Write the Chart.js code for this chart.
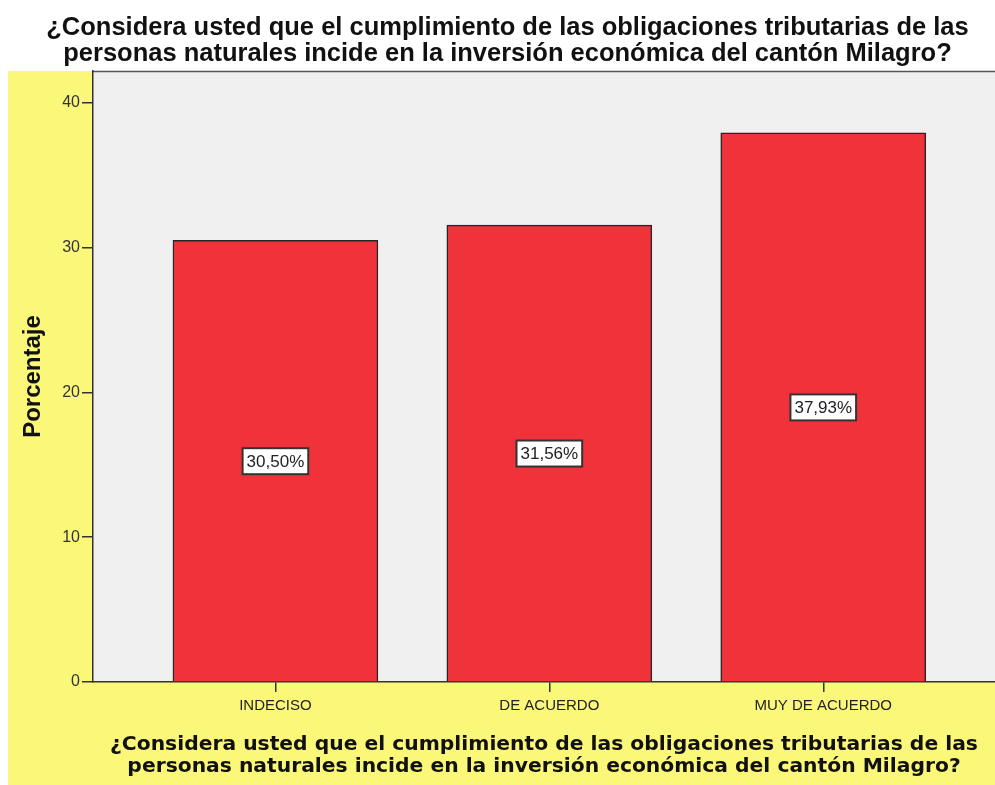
<!DOCTYPE html>
<html>
<head>
<meta charset="utf-8">
<script src="https://cdn.jsdelivr.net/npm/chart.js@4.4.0/dist/chart.umd.min.js"></script>
<style>
  html, body { margin: 0; padding: 0; background: #fff; }
  #wrap { width: 995px; height: 785px; }
</style>
</head>
<body>
<div id="wrap"><canvas id="porcentajeChart" width="995" height="785"></canvas></div>
<script>
const categorias = ['INDECISO', 'DE ACUERDO', 'MUY DE ACUERDO'];
const porcentajes = [30.50, 31.56, 37.93];
const yTicks = [0, 10, 20, 30, 40];
const pregunta = [
    '¿Considera usted que el cumplimiento de las obligaciones tributarias de las',
    'personas naturales incide en la inversión económica del cantón Milagro?'
];

const FAMILY = '"Liberation Sans", Arial, sans-serif';
Chart.defaults.font.family = FAMILY;

// fondo amarillo + area gris del grafico
const fondo = {
    id: 'fondo',
    beforeDraw(chart) {
        const { ctx, chartArea: a, width, height } = chart;
        ctx.save();
        ctx.fillStyle = '#ffffff';
        ctx.fillRect(0, 0, width, height);
        ctx.fillStyle = '#fbf779';
        ctx.fillRect(8, a.top, width - 8, height - a.top);
        ctx.fillStyle = '#f0f0f0';
        ctx.fillRect(a.left, a.top, a.right - a.left, a.bottom - a.top);
        ctx.strokeStyle = '#555';
        ctx.lineWidth = 1.5;
        ctx.beginPath();
        ctx.moveTo(a.left, a.top + 0.5);
        ctx.lineTo(a.right, a.top + 0.5);
        ctx.stroke();
        ctx.restore();
    }
};

// etiquetas con el porcentaje en medio de cada barra
const etiquetas = {
    id: 'etiquetas',
    afterDatasetsDraw(chart) {
        const { ctx, scales: { x, y } } = chart;
        ctx.save();
        ctx.font = '17px ' + FAMILY;
        ctx.textAlign = 'center';
        ctx.textBaseline = 'middle';
        porcentajes.forEach((v, i) => {
            const txt = v.toFixed(2).replace('.', ',') + '%';
            const cx = x.getPixelForValue(i);
            const cy = y.getPixelForValue(v / 2);
            const w = ctx.measureText(txt).width + 8;
            const h = 26;
            ctx.fillStyle = '#ffffff';
            ctx.fillRect(cx - w / 2, cy - h / 2, w, h);
            ctx.strokeStyle = '#333';
            ctx.lineWidth = 2;
            ctx.strokeRect(cx - w / 2, cy - h / 2, w, h);
            ctx.fillStyle = '#222';
            ctx.fillText(txt, cx, cy + 1);
        });
        ctx.restore();
    }
};

new Chart(document.getElementById('porcentajeChart'), {
    type: 'bar',
    data: {
        datasets: [{
            data: porcentajes.map((v, i) => ({ x: i, y: v })),
            backgroundColor: '#f0333a',
            borderColor: '#262626',
            borderWidth: 1.5,
            barThickness: 205
        }]
    },
    options: {
        responsive: false,
        animation: false,
        layout: { padding: { left: 20, right: 0, top: 0, bottom: 0 } },
        plugins: {
            legend: { display: false },
            tooltip: { enabled: false },
            title: {
                display: true,
                text: pregunta,
                color: '#111',
                font: { size: 25.5, weight: 'bold', lineHeight: '26px' },
                padding: { top: 15, bottom: 4 }
            }
        },
        scales: {
            x: {
                type: 'linear',
                min: -0.666,
                max: 2.627,
                offset: false,
                grid: { offset: false, drawOnChartArea: false, drawTicks: true, tickLength: 10, color: '#333', lineWidth: 1.5 },
                border: { color: '#333', width: 1.5 },
                ticks: {
                    color: '#222',
                    padding: 5,
                    maxRotation: 0,
                    font: { size: 15 },
                    callback: val => categorias[val]
                },
                afterBuildTicks: s => { s.ticks = categorias.map((c, i) => ({ value: i })); },
                afterFit: s => { s.height = 103; },
                title: {
                    display: true,
                    text: pregunta,
                    color: '#111',
                    font: { family: '"DejaVu Sans", Verdana, sans-serif', size: 20.3, weight: 'bold', lineHeight: 1.08 },
                    padding: { top: 4, bottom: 7 }
                }
            },
            y: {
                min: 0,
                max: 42.2,
                grid: { drawOnChartArea: false, drawTicks: true, tickLength: 11, color: '#333', lineWidth: 1.5 },
                border: { color: '#333', width: 1.5 },
                ticks: { color: '#333', padding: 2, font: { size: 16 } },
                afterBuildTicks: s => { s.ticks = yTicks.map(v => ({ value: v })); },
                afterFit: s => { s.width = 73; },
                title: {
                    display: true,
                    text: 'Porcentaje',
                    color: '#111',
                    font: { size: 24, weight: 'bold', lineHeight: 1.1 },
                    padding: { top: 0, bottom: 0 }
                }
            }
        }
    },
    plugins: [fondo, etiquetas]
});
</script>
</body>
</html>
